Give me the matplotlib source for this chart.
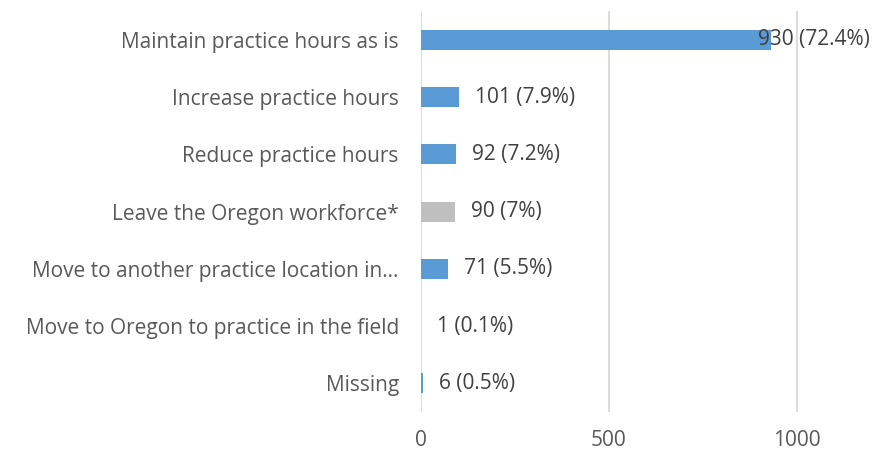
import matplotlib
matplotlib.use('Agg')
import matplotlib.pyplot as plt
import numpy as np

# Categories (top to bottom) and counts
categories = ['Maintain practice hours as is',
              'Increase practice hours',
              'Reduce practice hours',
              'Leave the Oregon workforce*',
              'Move to another practice location in\u2026',
              'Move to Oregon to practice in the field',
              'Missing']
counts = [930, 101, 92, 90, 71, 1, 6]
percents = ['72.4%', '7.9%', '7.2%', '7%', '5.5%', '0.1%', '0.5%']
highlight = [False, False, False, True, False, False, False]

blue = '#5B9BD5'
gray = '#BFBFBF'

plt.rcParams['font.family'] = ['Open Sans', 'DejaVu Sans']

fig = plt.figure(figsize=(8.93, 4.55), dpi=100)
ax = fig.add_axes([0.4715, 0.0945, 0.505, 0.881])

y = np.arange(len(categories))
colors = [gray if h else blue for h in highlight]
ax.barh(y, counts, height=0.35, color=colors, zorder=3)

ax.set_xlim(0, 1200)
ax.set_ylim(len(categories) - 0.5, -0.5)
ax.set_xticks([0, 500, 1000])
ax.set_yticks(y)
ax.set_yticklabels(categories, fontsize=15, color='#595959')
ax.tick_params(axis='x', labelsize=15, labelcolor='#595959', length=0, pad=13)
ax.tick_params(axis='y', length=0, pad=16)

ax.grid(axis='x', color='#D9D9D9', linewidth=1.3, zorder=0)
for s in ax.spines.values():
    s.set_visible(False)

# Data labels
for i, (c, p) in enumerate(zip(counts, percents)):
    txt = '%d (%s)' % (c, p)
    if c > 800:
        ax.text(1195, i, txt, ha='right', va='center', fontsize=15,
                color='#404040', zorder=4)
    else:
        ax.annotate(txt, (c, i), xytext=(11.5, 0), textcoords='offset points',
                    ha='left', va='center', fontsize=15, color='#404040', zorder=4)

plt.savefig('out.png', dpi=100)
